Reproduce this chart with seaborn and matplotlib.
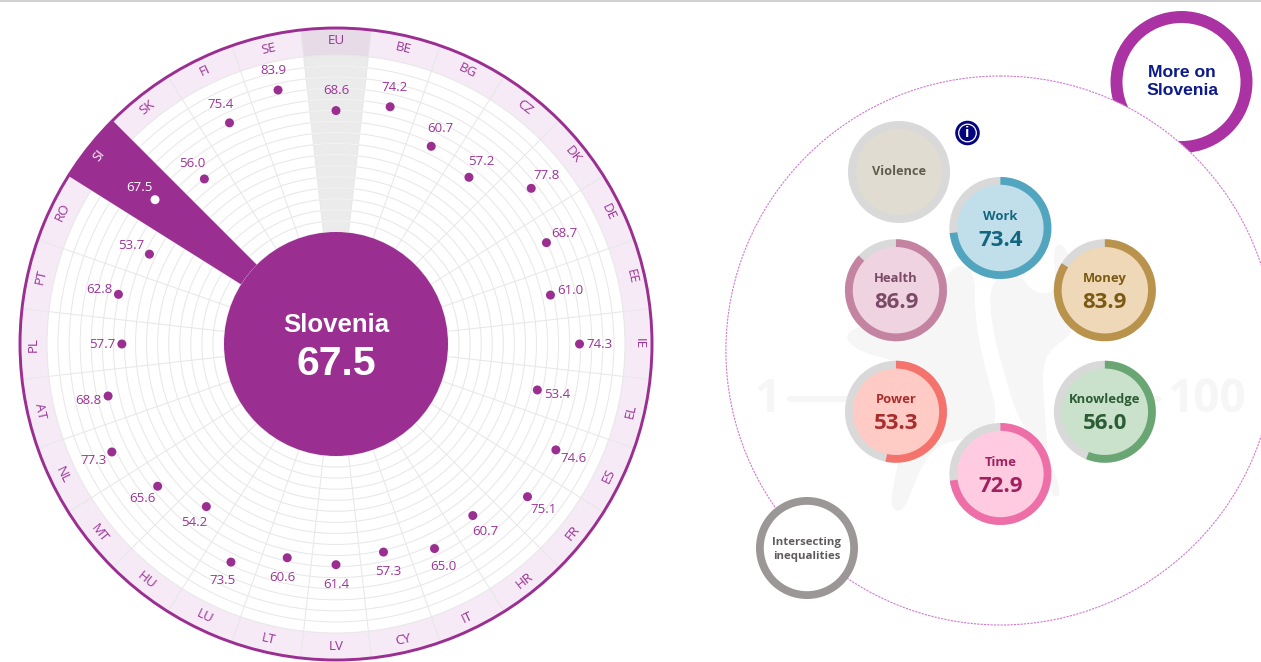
import numpy as np
import pandas as pd
import matplotlib
matplotlib.use("Agg")
import matplotlib.pyplot as plt
from matplotlib.patches import Circle, Wedge, Polygon
import seaborn as sns

# ---------- data ----------
countries = ["EU", "BE", "BG", "CZ", "DK", "DE", "EE", "IE", "EL", "ES", "FR", "HR", "IT", "CY",
             "LV", "LT", "LU", "HU", "MT", "NL", "AT", "PL", "PT", "RO", "SI", "SK", "FI", "SE"]
scores = [68.6, 74.2, 60.7, 57.2, 77.8, 68.7, 61.0, 74.3, 53.4, 74.6, 75.1, 60.7, 65.0, 57.3,
          61.4, 60.6, 73.5, 54.2, 65.6, 77.3, 68.8, 57.7, 62.8, 53.7, 67.5, 56.0, 75.4, 83.9]
focus_country = "SI"
focus_name = "Slovenia"
focus_score = 67.5
domains = ["Work", "Money", "Knowledge", "Time", "Power", "Health"]
domain_scores = [73.4, 83.9, 56.0, 72.9, 53.3, 86.9]

# ---------- styles ----------
ring_cols = ["#52a5bf", "#b9934c", "#6aa673", "#ee6fa8", "#f4736c", "#c483a0"]
fill_cols = ["#c1dfeb", "#eed8b8", "#cae2cb", "#ffcbe0", "#ffcbc4", "#f0d3e0"]
text_cols = ["#12667f", "#7a5a12", "#2c5c35", "#a1205f", "#a82e2e", "#7b4a66"]
PURPLE = "#9b2e91"
TXT = "#9c3396"
GREY = "#d9d9d9"
WM = "#f6f6f6"
OPEN = ["Open Sans", "DejaVu Sans"]
SANS = ["Liberation Sans", "DejaVu Sans"]

sns.set_theme(style="white")
plt.rcParams["font.family"] = OPEN

W, H = 1261, 662
fig = plt.figure(figsize=(W / 100, H / 100), dpi=100, facecolor="white")

# ---------- radial chart ----------
cx, cy, R_out, R_in, R_100 = 336, 344, 316, 112, 289
px = (R_100 - R_in) / 100.0
ax = fig.add_axes([(cx - R_out) / W, (H - cy - R_out) / H, 2 * R_out / W, 2 * R_out / H],
                  projection="polar")
ax.set_theta_zero_location("N")
ax.set_theta_direction(-1)
ax.set_facecolor("white")
n = len(countries)
step = 2 * np.pi / n
theta = np.arange(n) * step
rmax = (R_out - R_in) / px
origin = -R_in / px

df = pd.DataFrame({"theta": theta, "score": scores, "country": countries})
df["group"] = np.where(df["country"] == focus_country, "focus", "other")

ax.bar(0, rmax - 100, width=2 * np.pi, bottom=100, color="#f5eaf6", linewidth=0, zorder=0.2)
eu = countries.index("EU")
ax.bar(theta[eu], 100, width=step, bottom=0, color="#ebebeb", linewidth=0, zorder=0.2)
ax.bar(theta[eu], rmax - 100, width=step, bottom=100, color="#e6dbe6", linewidth=0, zorder=0.2)
si = countries.index(focus_country)
ax.bar(theta[si], rmax, width=step, bottom=0, color=PURPLE, linewidth=0, zorder=1.5)

sns.scatterplot(data=df, x="theta", y="score", hue="group",
                palette={"focus": "white", "other": PURPLE}, s=42, linewidth=0,
                legend=False, ax=ax, zorder=3)

ticks = np.arange(0, 100.1, 6.25)
ax.set_xticks(theta + step / 2)
ax.set_yticks(ticks)
ax.grid(True, color="#e8e8e8", linewidth=0.75)
ax.set_axisbelow(True)
ax.tick_params(labelbottom=False, labelleft=False, length=0)
ax.set_xlabel("")
ax.set_ylabel("")
ax.spines["polar"].set_color(PURPLE)
ax.spines["polar"].set_linewidth(2.1)
ax.spines["polar"].set_capstyle("butt")
for key in ("inner", "start", "end"):
    ax.spines[key].set_color("none")
    ax.spines[key].set_linewidth(0)

for r in ticks[1:-1]:
    ax.plot(np.linspace(theta[eu] - step / 2, theta[eu] + step / 2, 20), np.full(20, r),
            color="#f3f3f3", lw=0.8, zorder=0.6)

label_r = (303 - R_in) / px
offset = 20 / px
for t, c, v in zip(theta, countries, scores):
    deg = np.degrees(t)
    rot = -deg if (deg <= 90 or deg >= 270) else 180 - deg
    col = "white" if c == focus_country else TXT
    ax.text(t, label_r, c, rotation=rot, rotation_mode="anchor", ha="center", va="center",
            fontsize=9.6, color=col, zorder=4)
    ax.text(t, v + offset, f"{v:.1f}", ha="center", va="center", fontsize=9.5, color=col, zorder=4)

ax.set_rorigin(origin)
ax.set_ylim(0, rmax)

# ---------- overlay in pixel space ----------
ov = fig.add_axes([0, 0, 1, 1], facecolor="none")
ov.set_xlim(0, W)
ov.set_ylim(H, 0)
ov.axis("off")
ov.axhline(1, color="#cfcfcf", lw=1.4)

ov.add_patch(Circle((cx, cy), R_in, facecolor=PURPLE, lw=0, zorder=1))
ov.text(cx, 325, focus_name, ha="center", va="center", fontsize=18.6, fontweight="bold",
        color="white", family=SANS, zorder=2)
ov.text(cx, 364, f"{focus_score:.1f}", ha="center", va="center", fontsize=29.5, fontweight="bold",
        color="white", family=SANS, zorder=2)

# "More on" button sits behind the big disc
ov.add_patch(Circle((1181.5, 82), 65, facecolor="white", edgecolor="#aa32a2", lw=8.6, zorder=1))
ov.text(1182, 81.5, f"More on\n{focus_name}", ha="center", va="center", fontsize=12.6,
        fontweight="bold", color="#0c1a8a", family=SANS, linespacing=1.3, zorder=8)

bx, by = 1000.4, 351
ov.add_patch(Circle((bx, 350.5), 274.5, facecolor="white", edgecolor="#d27ad0", lw=0.8,
                    linestyle=(0, (2, 1)), zorder=2))


def smooth(points, rounds=3):
    pts = np.asarray(points, dtype=float)
    for _ in range(rounds):
        nxt = np.roll(pts, -1, axis=0)
        pts = np.column_stack([0.75 * pts + 0.25 * nxt, 0.25 * pts + 0.75 * nxt]).reshape(-1, 2)
    return pts


# watermark figure
left_shape = [(350, 100), (405, 130), (403, 260), (430, 400), (480, 580), (400, 620), (300, 640),
              (245, 700), (195, 835), (165, 845), (150, 810), (200, 600), (250, 440), (180, 395),
              (60, 365), (15, 325), (40, 295), (200, 250), (300, 170)]
right_shape = [(450, 150), (540, 130), (565, 175), (610, 195), (650, 180), (640, 40), (680, 50),
               (720, 200), (700, 310), (625, 360), (605, 430), (610, 500), (630, 780), (650, 805),
               (662, 780), (620, 670), (540, 580), (490, 420), (455, 280)]
for shape in (left_shape, right_shape):
    pts = smooth([(840 + x / 3, 230 + y / 3) for x, y in shape])
    ov.add_patch(Polygon(pts, closed=True, facecolor=WM, edgecolor=WM, lw=0.5, zorder=3))
ov.text(767, 400, "1", ha="center", va="center", fontsize=33, fontweight="bold", color=WM, zorder=3)
ov.text(1207, 400, "100", ha="center", va="center", fontsize=33, fontweight="bold", color=WM, zorder=3)
ov.plot([790, 860], [399, 399], color=WM, lw=4.5, solid_capstyle="round", zorder=3)
ov.plot([1150, 1158], [399, 399], color=WM, lw=4.5, solid_capstyle="round", zorder=3)

# domain bubbles
RB, WB = 51, 7.8
hex_angles = np.radians(-90 + 60 * np.arange(6))
for ang, name, v, rc, fc, tc in zip(hex_angles, domains, domain_scores, ring_cols, fill_cols, text_cols):
    ry = 123 if abs(np.cos(ang)) < 0.1 else 121.5
    x, y = bx + 120.6 * np.cos(ang), by + ry * np.sin(ang)
    ov.add_patch(Circle((x, y), RB, facecolor=GREY, lw=0, zorder=4))
    ov.add_patch(Wedge((x, y), RB, -90, -90 + 3.6 * v, facecolor=rc, lw=0, zorder=5))
    ov.add_patch(Circle((x, y), RB - WB, facecolor=fc, lw=0, zorder=6))
    ov.text(x, y - 12, name, ha="center", va="center", fontsize=9.4, fontweight="bold",
            color=tc, zorder=8)
    ov.text(x, y + 12, f"{v:.1f}", ha="center", va="center", fontsize=16, fontweight="bold",
            color=tc, zorder=8)

# violence (no score)
ov.add_patch(Circle((899, 172), RB, facecolor=GREY, lw=0, zorder=4))
ov.add_patch(Circle((899, 172), RB - WB, facecolor="#e0dcd2", lw=0, zorder=6))
ov.text(899, 171.5, "Violence", ha="center", va="center", fontsize=9.2, fontweight="bold",
        color="#615d4c", zorder=8)

# intersecting inequalities
ov.add_patch(Circle((807, 548), RB - WB / 2, facecolor="white", edgecolor="#9b9797", lw=WB * 0.72, zorder=6))
ov.text(806.5, 549.5, "Intersecting\ninequalities", ha="center", va="center", fontsize=8.2,
        fontweight="bold", color="#5f5b5b", linespacing=1.25, zorder=8)

# info icon
ov.add_patch(Circle((967.5, 133), 12.3, facecolor="#04047f", lw=0, zorder=6))
ov.add_patch(Circle((967.5, 133), 8.8, facecolor="#04047f", edgecolor="white", lw=0.9, zorder=7))
ov.text(967.5, 133, "i", ha="center", va="center", fontsize=11, fontweight="bold", color="white",
        family=SANS, zorder=8)

fig.savefig("out.png", dpi=100, facecolor="white")
